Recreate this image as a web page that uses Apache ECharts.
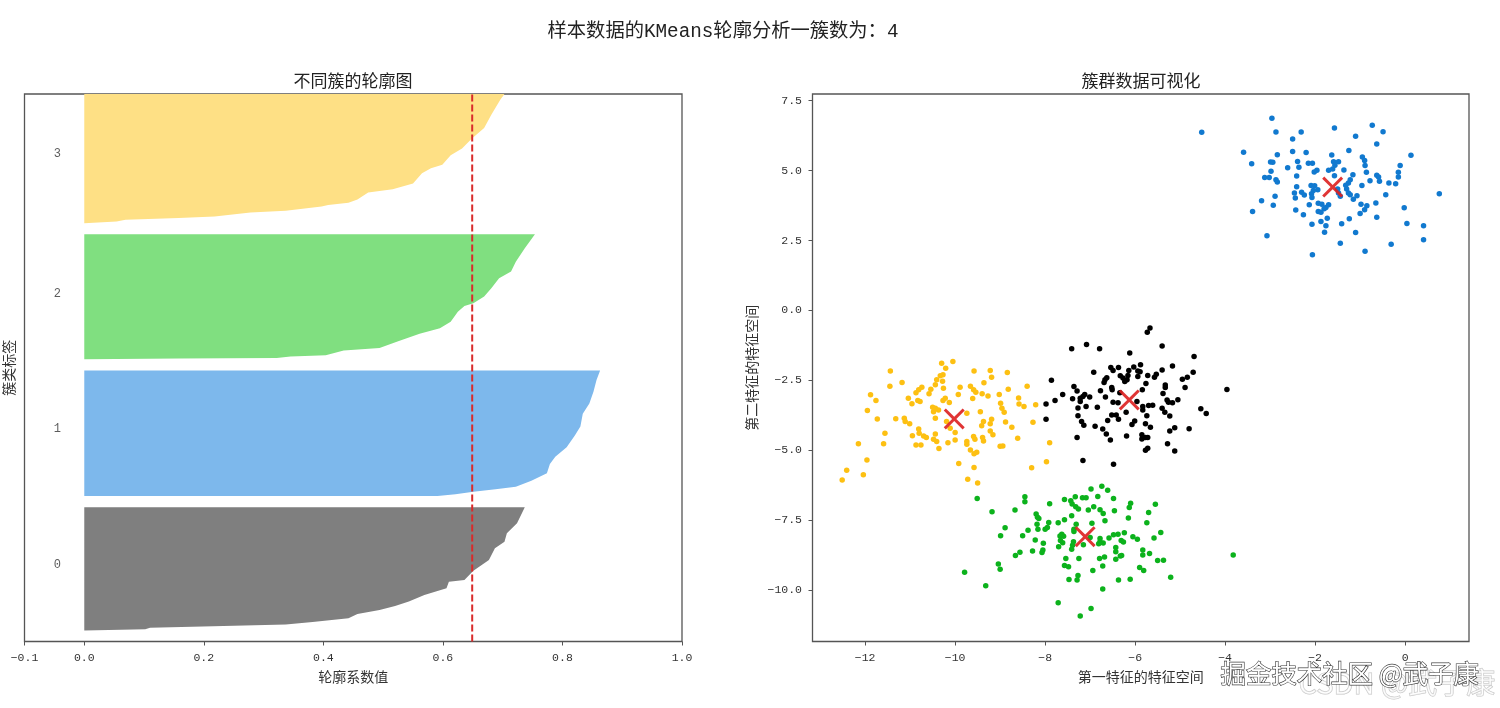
<!DOCTYPE html>
<html>
<head>
<meta charset="utf-8">
<title>KMeans轮廓分析</title>
<script src="https://cdn.jsdelivr.net/npm/echarts@6/dist/echarts.min.js"></script>
<style>
html,body{margin:0;padding:0;background:#fff;}
#main{width:1500px;height:708px;}
</style>
</head>
<body>
<div id="main"></div>
<script>
// 轮廓图: [轮廓系数, 样本序号], 从下往上读
var silhouette0 = [[0,9.6],[.102,10.8],[.110,12.2],[.233,13.7],[.337,14.9],[.382,17.2],[.442,20.5],[.457,24.3],[.494,27.8],[.520,31.4],[.543,35.2],[.569,41],[.606,47],[.610,52.8],[.636,54.3],[.651,62.5],[.677,72],[.687,82.2],[.703,88],[.707,95.5],[.724,104.3],[.737,118.4]];
var silhouette1 = [[0,128.4],[.591,128.4],[.621,130],[.651,132],[.688,134.3],[.722,136.6],[.748,141.9],[.774,148.4],[.779,156.6],[.788,163],[.807,171.3],[.821,182],[.830,189.6],[.834,201],[.845,210],[.852,220.5],[.857,230.8],[.863,239]];
var silhouette2 = [[0,249],[.158,249.6],[.322,250.2],[.345,251.4],[.404,252.6],[.434,256.7],[.494,259],[.524,264.6],[.561,271.4],[.595,276.4],[.613,282],[.625,291],[.636,296],[.651,298.5],[.669,304.3],[.681,311.7],[.694,320.5],[.714,326.4],[.722,335],[.737,347],[.754,359.3]];
var silhouette3 = [[0,369],[.054,370.5],[.069,372],[.158,373.5],[.218,375],[.278,378.4],[.337,380],[.397,383.7],[.408,385],[.442,387],[.457,390],[.475,396],[.516,399],[.550,404],[.565,413],[.580,417.6],[.599,420.5],[.613,429],[.632,435],[.649,444],[.669,453],[.681,464.6],[.696,478],[.703,483]];
var silhouetteAvg = 0.649;
var silhouetteMax = 483;
var clusterNames = ['0','1','2','3'];
var clusterNameY = [67.5,188,307,430];

// 散点数据
var points0 = [[-5.67,-.63],[-5.73,-.78],[-5.40,-1.27],[-7.08,-1.22],[-7.41,-1.37],[-6.79,-1.37],[-6.12,-1.52],[-4.69,-1.65],[-5.17,-1.99],[-5.88,-1.94],[-6.03,-2.02],[-6.37,-2.04],[-6.54,-2.04],[-6.49,-2.15],[-6.14,-2.15],[-5.94,-2.17],[-5.89,-2.19],[-6.92,-2.21],[-5.40,-2.13],[-4.71,-2.21],[-5.72,-2.33],[-5.53,-2.28],[-5.57,-2.39],[-6.33,-2.34],[-6.27,-2.42],[-6.16,-2.33],[-5.94,-2.36],[-6.23,-2.54],[-6.18,-2.48],[-6.63,-2.41],[-6.67,-2.48],[-6.69,-2.58],[-4.84,-2.39],[-4.95,-2.46],[-7.86,-2.50],[-5.76,-2.61],[-7.36,-2.72],[-5.33,-2.67],[-5.33,-2.76],[-4.89,-2.76],[-6.52,-2.76],[-6.51,-2.84],[-7.29,-2.88],[-6.77,-2.87],[-3.96,-2.83],[-5.84,-2.84],[-6.34,-2.94],[-5.38,-2.97],[-7.61,-3.01],[-7.12,-3.01],[-7.16,-3.08],[-7.01,-3.10],[-6.66,-3.10],[-7.39,-3.16],[-7.22,-3.14],[-7.22,-3.26],[-7.78,-3.22],[-5.05,-3.19],[-7.98,-3.35],[-5.29,-3.20],[-5.26,-3.28],[-5.17,-3.30],[-6.49,-3.28],[-6.38,-3.30],[-5.96,-3.26],[-5.70,-3.40],[-5.61,-3.39],[-5.83,-3.44],[-5.83,-3.56],[-5.40,-3.50],[-5.34,-3.64],[-7.09,-3.44],[-7.27,-3.49],[-6.84,-3.46],[-4.54,-3.52],[-4.42,-3.69],[-6.20,-3.64],[-6.52,-3.74],[-6.42,-3.74],[-7.27,-3.77],[-5.74,-3.77],[-5.23,-3.78],[-7.98,-3.89],[-6.37,-3.89],[-6.61,-3.94],[-7.19,-3.97],[-7.14,-4.11],[-6.01,-3.95],[-6.07,-4.08],[-5.77,-4.05],[-5.66,-4.18],[-4.80,-4.23],[-5.12,-4.20],[-5.23,-4.31],[-6.89,-4.14],[-6.72,-4.24],[-6.64,-4.42],[-6.55,-4.63],[-7.29,-4.54],[-6.19,-4.49],[-5.85,-4.45],[-5.77,-4.54],[-5.72,-4.54],[-5.85,-4.60],[-5.28,-4.77],[-5.72,-4.93],[-5.77,-5.00],[-5.12,-5.03],[-7.16,-5.37],[-6.48,-5.50]];
var points1 = [[-4.52,6.37],[-2.96,6.87],[-2.87,6.38],[-2.31,6.38],[-2.50,6.13],[-1.57,6.52],[-.73,6.62],[-.49,6.39],[-1.10,6.23],[-.63,5.95],[-3.59,5.66],[-2.84,5.57],[-2.50,5.68],[-2.20,5.65],[-1.63,5.56],[-1.25,5.72],[-.95,5.49],[.13,5.55],[-3.41,5.25],[-2.99,5.31],[-2.94,5.30],[-2.39,5.33],[-2.36,5.12],[-2.15,5.26],[-2.06,5.26],[-1.59,5.32],[-1.48,5.32],[-1.56,5.19],[-.90,5.36],[-.89,5.18],[-.11,5.18],[-2.61,5.10],[-2.98,4.98],[-1.96,5.01],[-2.02,4.95],[-1.70,5.01],[-1.61,5.06],[-1.36,5.02],[-.86,4.94],[-.15,4.94],[-.15,4.77],[-1.16,4.85],[-.63,4.83],[-.59,4.77],[-2.41,4.81],[-3.12,4.75],[-3.02,4.75],[-2.87,4.67],[-2.84,4.59],[-1.57,4.82],[-1.22,4.67],[-1.26,4.56],[-.78,4.64],[-.57,4.62],[-.36,4.56],[-.21,4.53],[-.96,4.47],[-2.41,4.42],[-2.09,4.47],[-2.01,4.46],[-1.94,4.32],[-2.04,4.29],[-1.32,4.48],[-1.30,4.34],[-1.26,4.20],[-1.50,4.34],[-1.48,4.20],[-1.44,4.08],[-2.46,4.20],[-2.30,4.23],[-2.24,4.13],[-2.08,4.17],[-2.07,4.04],[-2.44,4.02],[-2.89,4.08],[.76,4.17],[-.43,4.14],[-1.22,4.14],[-1.07,4.10],[-1.15,3.98],[-3.19,3.92],[-2.93,3.76],[-2.13,3.78],[-1.93,3.83],[-1.85,3.80],[-1.70,3.78],[-1.76,3.68],[-1.80,3.64],[-.65,3.84],[-.98,3.80],[-.85,3.74],[-.90,3.60],[-1.00,3.47],[-.02,3.67],[-3.39,3.54],[-2.43,3.59],[-2.26,3.42],[-1.93,3.54],[-1.87,3.51],[-1.73,3.30],[-1.24,3.28],[-.63,3.33],[-1.87,3.18],[-2.07,3.08],[-1.76,3.03],[-1.41,3.10],[.04,3.11],[.41,3.03],[-1.79,2.80],[-1.10,2.79],[-3.07,2.67],[-1.44,2.40],[-.31,2.37],[.41,2.53],[-.89,2.12],[-2.06,1.99]];
var points2 = [[-6.74,-6.29],[-6.98,-6.39],[-6.61,-6.43],[-6.83,-6.65],[-7.33,-6.66],[-7.17,-6.70],[-7.09,-6.70],[-8.45,-6.66],[-8.45,-6.84],[-9.51,-6.73],[-7.57,-6.76],[-6.48,-6.73],[-7.43,-6.81],[-7.40,-6.92],[-7.90,-6.91],[-6.10,-6.90],[-6.13,-7.05],[-5.55,-6.93],[-7.32,-7.02],[-7.26,-7.10],[-6.92,-7.02],[-7.04,-7.14],[-8.67,-7.14],[-9.18,-7.20],[-6.78,-7.13],[-6.71,-7.26],[-6.46,-7.16],[-5.70,-7.23],[-7.41,-7.34],[-8.20,-7.28],[-8.17,-7.40],[-8.14,-7.44],[-6.67,-7.52],[-6.15,-7.42],[-7.57,-7.49],[-7.71,-7.59],[-7.92,-7.58],[-8.18,-7.65],[-5.74,-7.59],[-7.31,-7.65],[-6.96,-7.61],[-8.89,-7.77],[-8.16,-7.83],[-8.00,-7.83],[-7.95,-7.76],[-8.38,-7.86],[-7.36,-7.91],[-7.36,-7.83],[-5.43,-7.94],[-6.24,-7.95],[-6.38,-8.00],[-6.48,-8.02],[-6.58,-8.14],[-8.99,-8.06],[-8.50,-8.06],[-7.63,-8.00],[-7.59,-8.08],[-7.67,-8.07],[-7.66,-8.23],[-7.61,-8.31],[-6.05,-8.09],[-5.95,-8.18],[-5.58,-8.14],[-8.22,-8.21],[-6.78,-8.16],[-6.78,-8.27],[-6.71,-8.32],[-7.00,-8.12],[-6.81,-8.34],[-6.31,-8.23],[-6.26,-8.28],[-7.37,-8.27],[-7.39,-8.40],[-7.41,-8.54],[-7.70,-8.45],[-8.04,-8.33],[-7.15,-8.38],[-8.05,-8.57],[-8.07,-8.66],[-8.28,-8.60],[-8.56,-8.65],[-8.66,-8.76],[-6.43,-8.48],[-6.43,-8.63],[-5.83,-8.57],[-5.68,-8.69],[-5.83,-8.75],[-6.33,-8.78],[-6.30,-8.76],[-6.43,-8.90],[-7.54,-8.87],[-7.25,-8.87],[-6.79,-8.87],[-6.68,-8.82],[-5.50,-8.94],[-5.37,-8.93],[-9.04,-9.07],[-7.57,-9.12],[-7.48,-9.17],[-6.72,-9.14],[-9.00,-9.26],[-5.90,-9.19],[-5.81,-9.30],[-9.79,-9.36],[-6.94,-9.30],[-7.27,-9.48],[-5.21,-9.54],[-7.47,-9.62],[-7.29,-9.64],[-6.37,-9.64],[-6.11,-9.61],[-9.32,-9.85],[-6.72,-9.96],[-7.71,-10.45],[-6.98,-10.66],[-7.22,-10.93],[-3.82,-8.75]];
var points3 = [[-10.30,-1.89],[-10.05,-1.83],[-10.21,-2.07],[-11.44,-2.17],[-9.58,-2.17],[-9.22,-2.15],[-8.84,-2.22],[-9.19,-2.39],[-10.27,-2.30],[-10.33,-2.34],[-10.41,-2.48],[-10.28,-2.53],[-10.44,-2.66],[-11.18,-2.58],[-11.45,-2.71],[-9.36,-2.59],[-10.26,-2.78],[-9.89,-2.75],[-9.66,-2.71],[-8.40,-2.71],[-8.82,-2.82],[-10.74,-2.75],[-10.81,-2.84],[-10.87,-2.94],[-10.54,-2.82],[-10.58,-2.98],[-9.59,-2.84],[-9.54,-2.93],[-9.40,-2.98],[-9.27,-3.06],[-9.02,-3.01],[-9.93,-3.01],[-11.88,-3.02],[-11.76,-3.22],[-11.04,-3.14],[-10.96,-3.34],[-10.83,-3.22],[-10.78,-3.26],[-10.22,-3.14],[-10.27,-3.22],[-10.13,-3.29],[-9.61,-3.15],[-8.59,-3.13],[-8.58,-3.35],[-8.47,-3.44],[-8.21,-3.37],[-8.99,-3.32],[-8.96,-3.50],[-8.91,-3.64],[-11.95,-3.58],[-10.50,-3.46],[-10.44,-3.50],[-10.37,-3.56],[-10.48,-3.62],[-9.74,-3.68],[-9.44,-3.62],[-11.73,-3.88],[-11.32,-3.87],[-11.13,-3.86],[-11.11,-3.97],[-11.01,-4.05],[-10.44,-3.86],[-8.88,-3.99],[-8.27,-4.00],[-9.37,-3.97],[-9.41,-4.12],[-9.19,-3.89],[-9.22,-4.05],[-8.74,-4.18],[-10.19,-3.97],[-10.11,-4.21],[-10.81,-4.24],[-10.80,-4.39],[-10.70,-4.49],[-10.64,-4.54],[-11.56,-4.39],[-10.95,-4.48],[-10.44,-4.42],[-10.48,-4.61],[-10.41,-4.69],[-10.00,-4.37],[-10.00,-4.63],[-10.16,-4.73],[-9.22,-4.31],[-9.16,-4.45],[-9.59,-4.51],[-9.56,-4.61],[-9.39,-4.54],[-9.37,-4.67],[-9.74,-4.69],[-9.74,-4.79],[-8.61,-4.57],[-12.15,-4.77],[-11.59,-4.77],[-10.87,-4.81],[-10.76,-4.81],[-10.36,-4.94],[-9.66,-4.99],[-9.52,-5.07],[-9.58,-5.13],[-7.90,-4.73],[-9.00,-4.86],[-8.94,-4.85],[-11.96,-5.35],[-9.92,-5.47],[-9.58,-5.62],[-7.97,-5.41],[-8.30,-5.63],[-12.41,-5.72],[-12.04,-5.88],[-12.51,-6.06],[-9.72,-6.04],[-9.50,-6.17]];
var centers = [[-6.13,-3.20],[-1.61,4.41],[-7.11,-8.09],[-10.02,-3.88]];

var leftXTicks = [-0.1,0,0.2,0.4,0.6,0.8,1.0];
var rightXTicks = [-12,-10,-8,-6,-4,-2,0];
var rightYTicks = [7.5,5,2.5,0,-2.5,-5,-7.5,-10];

var bandColors = ['#7f7f7f','#7db8ec','#80df80','#fee085'];
var pointColors = ['#000000','#1179cf','#0cb21c','#fdc012'];
var bands = [silhouette0,silhouette1,silhouette2,silhouette3];
var pointSets = [points0,points1,points2,points3];

var textFont = '"Liberation Mono","Noto Sans CJK SC",monospace';
var textColor = '#333333';
var crossSymbol = 'path://M2,0L10,8L18,0L20,2L12,10L20,18L18,20L10,12L2,20L0,18L8,10L0,2Z';

function fmtTick(v, digits){
    return v.toFixed(digits).replace('-','\u2212');
}

var series = [];
for (var i = 0; i < bands.length; i++){
    series.push({
        type:'custom',
        xAxisIndex:0,
        yAxisIndex:0,
        clip:true,
        z:2,
        silent:true,
        data:bands[i],
        // 整条簇画成一个多边形, 靠 x=0 闭合
        renderItem:(function(band,color){
            return function(params,api){
                if (params.dataIndex !== 0) return null;
                var pts = [];
                for (var k = 0; k < band.length; k++){
                    pts.push(api.coord(band[k]));
                }
                pts.push(api.coord([0,band[band.length-1][1]]));
                return {type:'polygon',shape:{points:pts},style:{fill:color}};
            };
        })(bands[i],bandColors[i])
    });
}

series.push({
    type:'line',
    xAxisIndex:0,
    yAxisIndex:0,
    z:5,
    silent:true,
    symbol:'none',
    data:[[silhouetteAvg,0],[silhouetteAvg,silhouetteMax]],
    lineStyle:{color:'#d92b2b',width:2,type:[7,3]}
});

var clusterLabels = [];
for (var n = 0; n < clusterNames.length; n++){
    clusterLabels.push({value:[-0.045,clusterNameY[n]],name:clusterNames[n]});
}
series.push({
    type:'scatter',
    xAxisIndex:0,
    yAxisIndex:0,
    symbolSize:0,
    silent:true,
    data:clusterLabels,
    label:{
        show:true,
        position:'inside',
        formatter:'{b}',
        fontFamily:textFont,
        fontSize:12,
        color:textColor
    }
});

for (var j = 0; j < pointSets.length; j++){
    series.push({
        type:'scatter',
        xAxisIndex:1,
        yAxisIndex:1,
        z:3,
        silent:true,
        symbolSize:5.5,
        itemStyle:{color:pointColors[j],opacity:1},
        data:pointSets[j]
    });
}
series.push({
    type:'scatter',
    xAxisIndex:1,
    yAxisIndex:1,
    z:6,
    silent:true,
    symbol:crossSymbol,
    symbolSize:21,
    itemStyle:{color:'#dd1f1f',opacity:0.9},
    data:centers
});

var xTickLabel = {fontFamily:textFont,fontSize:11.5,color:textColor,margin:11};
var yTickLabel = {fontFamily:textFont,fontSize:11.5,color:textColor,margin:10.5};
var nameStyle = {fontFamily:textFont,fontSize:14,color:textColor};
var noLine = {show:false,onZero:false};
var myChart = echarts.init(document.getElementById('main'));
myChart.setOption({
    animation:false,
    backgroundColor:'#ffffff',
    title:[
        {text:'样本数据的KMeans轮廓分析一簇数为：4',left:723,top:22,padding:0,textAlign:'center',
            textStyle:{fontFamily:textFont,fontSize:19.3,fontWeight:'normal',color:'#222222'}},
        {text:'不同簇的轮廓图',left:353,top:74,padding:0,textAlign:'center',
            textStyle:{fontFamily:textFont,fontSize:17,fontWeight:'normal',color:'#222222'}},
        {text:'簇群数据可视化',left:1141,top:74,padding:0,textAlign:'center',
            textStyle:{fontFamily:textFont,fontSize:17,fontWeight:'normal',color:'#222222'}}
    ],
    grid:[
        {left:24.5,top:94,width:657.5,height:547.5,outerBoundsMode:'none',show:true,borderColor:'#555555',borderWidth:1.3,backgroundColor:'transparent'},
        {left:812.5,top:94,width:656.5,height:547.5,outerBoundsMode:'none',show:true,borderColor:'#555555',borderWidth:1.3,backgroundColor:'transparent'}
    ],
    xAxis:[
        {
            type:'value',gridIndex:0,min:-0.1,max:1.0,
            name:'轮廓系数值',nameLocation:'middle',nameGap:30,nameTextStyle:nameStyle,
            splitLine:{show:false},axisLine:noLine,
            axisTick:{show:true,length:4,customValues:leftXTicks,lineStyle:{color:'#555555'}},
            axisLabel:Object.assign({},xTickLabel,{customValues:leftXTicks,formatter:function(v){return fmtTick(v,1);}})
        },
        {
            type:'value',gridIndex:1,min:-13.17,max:1.42,
            name:'第一特征的特征空间',nameLocation:'middle',nameGap:30,nameTextStyle:nameStyle,
            splitLine:{show:false},axisLine:noLine,
            axisTick:{show:true,length:4,customValues:rightXTicks,lineStyle:{color:'#555555'}},
            axisLabel:Object.assign({},xTickLabel,{customValues:rightXTicks,formatter:function(v){return fmtTick(v,0);}})
        }
    ],
    yAxis:[
        {
            type:'value',gridIndex:0,min:0,max:silhouetteMax,
            name:'簇类标签',nameLocation:'middle',nameGap:7,nameTextStyle:nameStyle,
            splitLine:{show:false},axisLine:noLine,axisTick:{show:false},axisLabel:{show:false}
        },
        {
            type:'value',gridIndex:1,min:-11.84,max:7.74,
            name:'第二特征的特征空间',nameLocation:'middle',nameGap:52,nameTextStyle:nameStyle,
            splitLine:{show:false},axisLine:noLine,
            axisTick:{show:true,length:4,customValues:rightYTicks,lineStyle:{color:'#555555'}},
            axisLabel:Object.assign({},yTickLabel,{customValues:rightYTicks,formatter:function(v){return fmtTick(v,1);}})
        }
    ],
    graphic:[
        {type:'text',left:1298,top:668,z:20,silent:true,
            style:{text:'CSDN @武子康',fontFamily:'"Noto Sans CJK SC"',fontSize:29,fill:'rgba(255,255,255,0.6)',stroke:'#c4c4c4',lineWidth:1}},
        {type:'text',left:1220,top:660,z:21,silent:true,
            style:{text:'掘金技术社区 @武子康',fontFamily:'"Noto Sans CJK SC"',fontSize:25.4,fill:'#ffffff',stroke:'#333333',lineWidth:1.2}}
    ],
    series:series
});
</script>
</body>
</html>
